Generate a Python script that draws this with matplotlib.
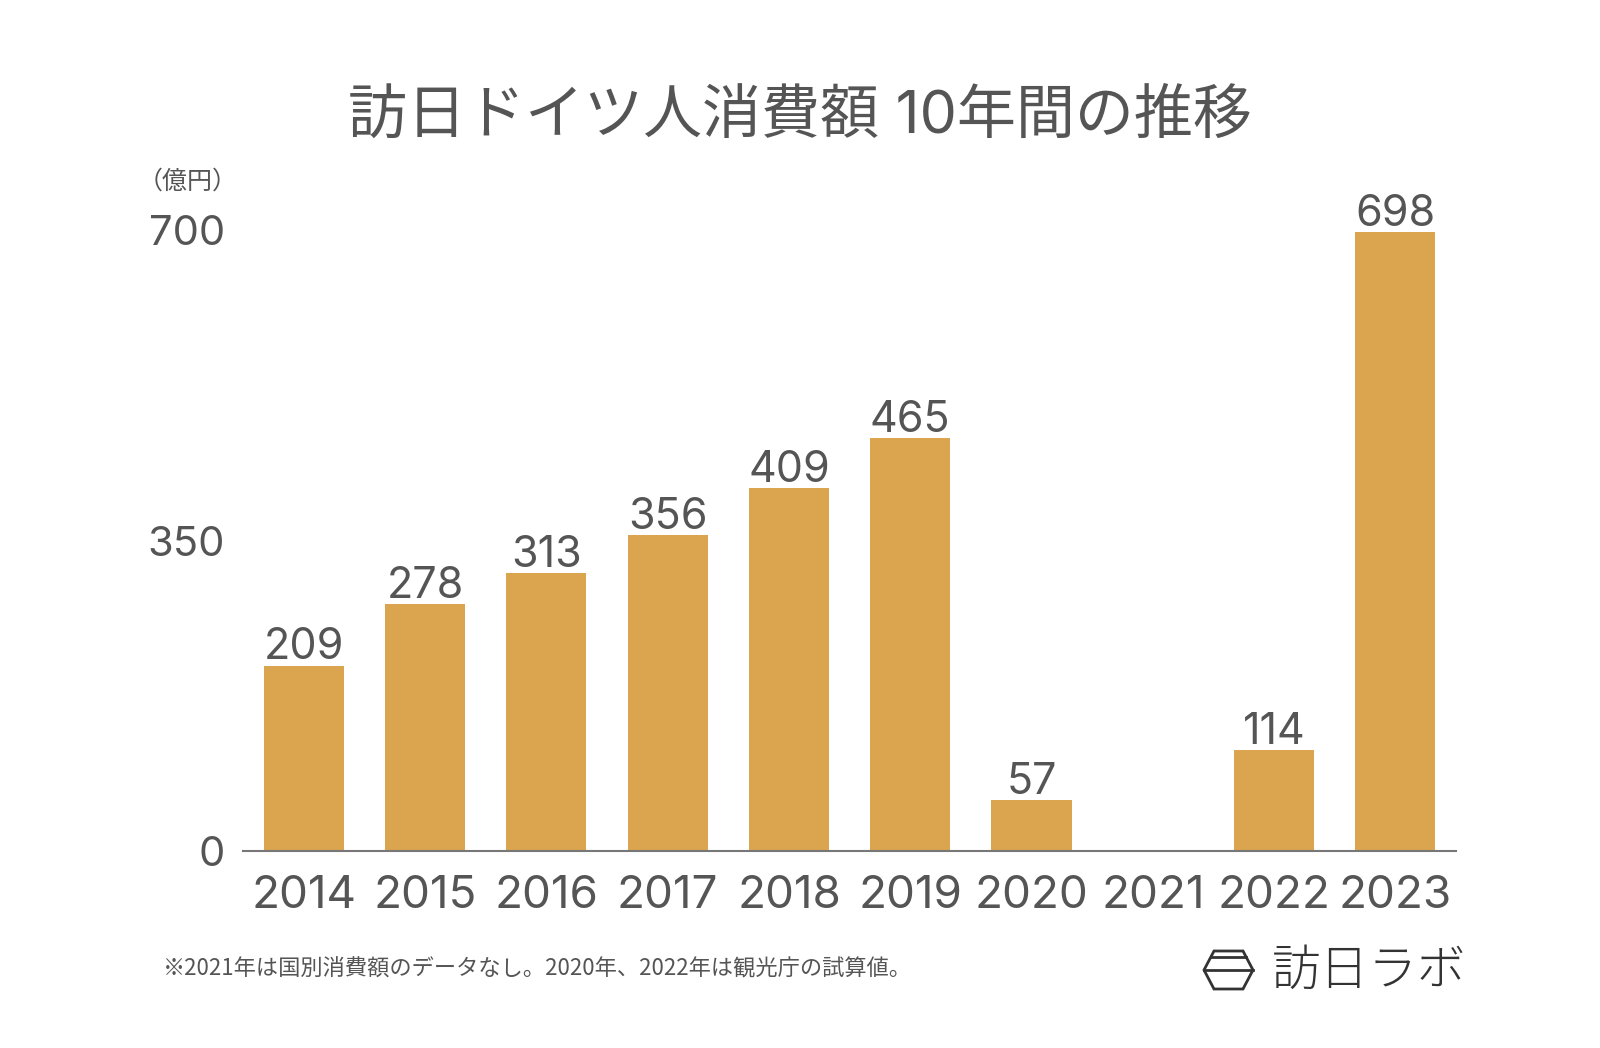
import matplotlib
matplotlib.use("Agg")
from matplotlib import pyplot as plt
from matplotlib.patches import Polygon

plt.rcParams['font.family'] = ['Inter', 'Noto Sans CJK JP', 'DejaVu Sans']

# data
years = ['2014', '2015', '2016', '2017', '2018', '2019', '2020', '2021', '2022', '2023']
spend = [209, 278, 313, 356, 409, 465, 57, None, 114, 698]   # 億円, 2021 no data
yticks = [0, 350, 700]

TXT = '#555555'
BAR = '#DBA44F'

fig = plt.figure(figsize=(16, 10.48), dpi=100)
ax = fig.add_axes([0.152, 0.188, 0.758, 0.5925])

xs = [i for i, v in enumerate(spend) if v is not None]
vals = [v for v in spend if v is not None]
ax.bar(xs, vals, width=0.66, color=BAR, zorder=2)
for x, v in zip(xs, vals):
    ax.text(x, v + 7, str(v), ha='center', va='baseline', fontsize=31, color=TXT)

ax.set_xlim(-0.5, len(years) - 0.5)
ax.set_ylim(0, 700)
ax.set_xticks(range(len(years)))
ax.set_xticklabels(years, fontsize=33, color=TXT)
ax.set_yticks(yticks)
ax.set_yticklabels([str(t) for t in yticks], fontsize=30, color=TXT)
ax.tick_params(length=0, axis='x', pad=17)
ax.tick_params(length=0, axis='y', pad=13)
for s in ['top', 'right', 'left']:
    ax.spines[s].set_visible(False)
ax.spines['bottom'].set_color('#777777')
ax.spines['bottom'].set_linewidth(1.5)

fig.text(0.5, 0.888, '訪日ドイツ人消費額 10年間の推移', ha='center', va='center',
         fontsize=42.5, color=TXT)
fig.text(0.086, 0.827, '（億円）', ha='left', va='center', fontsize=18, color=TXT)
fig.text(0.102, 0.075, '※2021年は国別消費額のデータなし。2020年、2022年は観光庁の試算値。',
         ha='left', va='center', fontsize=16, color=TXT,
         family=['Noto Sans CJK JP'])

# logo
hx = [1204, 1214, 1243, 1253, 1243, 1214]
hy = [970, 951, 951, 970, 989, 989]
fig.patches.append(Polygon([(x / 1600, (1048 - y) / 1048) for x, y in zip(hx, hy)],
                           closed=True, fill=False, ec='#333333', lw=2.0,
                           transform=fig.transFigure))
fig.lines.append(plt.Line2D([1211 / 1600, 1246 / 1600], [(1048 - 957) / 1048] * 2,
                            color='#333333', lw=2.0, transform=fig.transFigure))
fig.lines.append(plt.Line2D([1204 / 1600, 1253 / 1600], [(1048 - 970) / 1048] * 2,
                            color='#333333', lw=2.0, transform=fig.transFigure))
fig.text(1272 / 1600, (1048 - 971) / 1048, '訪日ラボ', ha='left', va='center',
         fontsize=35, color='#333333', fontweight='light',
         family=['Noto Sans CJK JP'])

fig.savefig('out.png', dpi=100, facecolor='white')
